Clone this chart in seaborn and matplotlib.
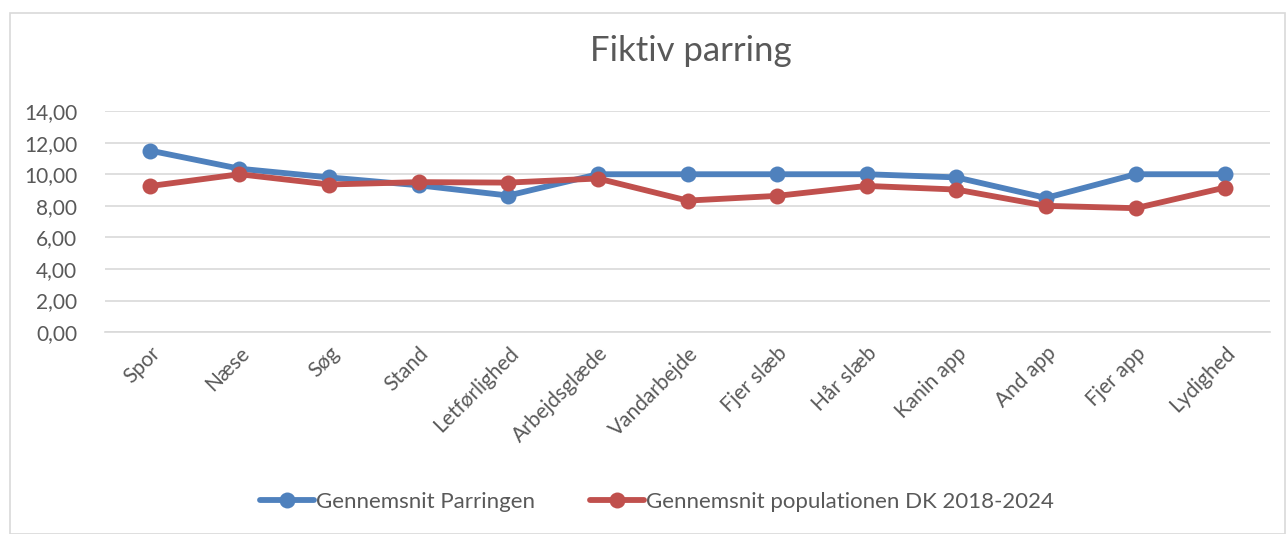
import matplotlib
matplotlib.use("Agg")
import matplotlib.pyplot as plt
import seaborn as sns
import pandas as pd
from matplotlib.patches import Rectangle
from matplotlib.ticker import FuncFormatter, MultipleLocator

categories = ["Spor", "Næse", "Søg", "Stand", "Letførlighed", "Arbejdsglæde",
              "Vandarbejde", "Fjer slæb", "Hår slæb", "Kanin app", "And app",
              "Fjer app", "Lydighed"]
parringen = [11.5, 10.35, 9.8, 9.3, 8.65, 10.0, 10.0, 10.0, 10.0, 9.8, 8.5, 10.0, 10.0]
population = [9.25, 10.0, 9.35, 9.5, 9.47, 9.73, 8.33, 8.63, 9.26, 9.03, 8.0, 7.85, 9.16]
series_names = ["Gennemsnit Parringen", "Gennemsnit populationen DK 2018-2024"]
colors = ["#4F81BD", "#C0504D"]

df = pd.concat([
    pd.DataFrame({"cat": categories, "val": parringen, "series": series_names[0]}),
    pd.DataFrame({"cat": categories, "val": population, "series": series_names[1]}),
])

sns.set_theme(style="white")
plt.rcParams['font.family'] = ['Lato', 'DejaVu Sans']
text_color = "#595959"

fig = plt.figure(figsize=(12.86, 5.34), dpi=100)
ax = fig.add_axes([0.0817, 0.378, 0.9059, 0.414])

sns.lineplot(data=df, x="cat", y="val", hue="series", palette=colors, sort=False,
             marker="o", markersize=11.5, markeredgewidth=0, linewidth=4.2, ax=ax)

ax.set_ylim(0, 14)
ax.set_xlim(-0.5, len(categories) - 0.5)
ax.yaxis.set_major_locator(MultipleLocator(2))
ax.yaxis.set_major_formatter(FuncFormatter(lambda v, p: f"{v:.2f}".replace(".", ",")))
ax.grid(axis="y", color="#D9D9D9", linewidth=1.2)
ax.set_axisbelow(True)
for s in ["top", "right", "left"]:
    ax.spines[s].set_visible(False)
ax.spines["bottom"].set_color("#D9D9D9")
ax.spines["bottom"].set_linewidth(1.2)
ax.set_xlabel("")
ax.set_ylabel("")
ax.tick_params(axis="both", colors=text_color, labelsize=15, length=0, pad=8)
ax.tick_params(axis="y", pad=20)
plt.setp(ax.get_xticklabels(), rotation=45, ha="right", rotation_mode="anchor")

fig.text(0.537, 0.905, "Fiktiv parring", ha="center", va="center", fontsize=25, color=text_color)

handles, labels = ax.get_legend_handles_labels()
ax.legend_.remove()
fig.legend(handles, labels, loc="center", bbox_to_anchor=(0.511, 0.06), ncol=2, frameon=False,
           fontsize=16, labelcolor=text_color, handlelength=2.4, handletextpad=0.1, columnspacing=2.5)

fig.patches.append(Rectangle((10/1286, 0.0), 1 - 10/1286 - 0.001, 1 - 13/534, transform=fig.transFigure,
                             fill=False, edgecolor="#D9D9D9", linewidth=1.2))

fig.savefig("out.png", dpi=100, facecolor="white")
